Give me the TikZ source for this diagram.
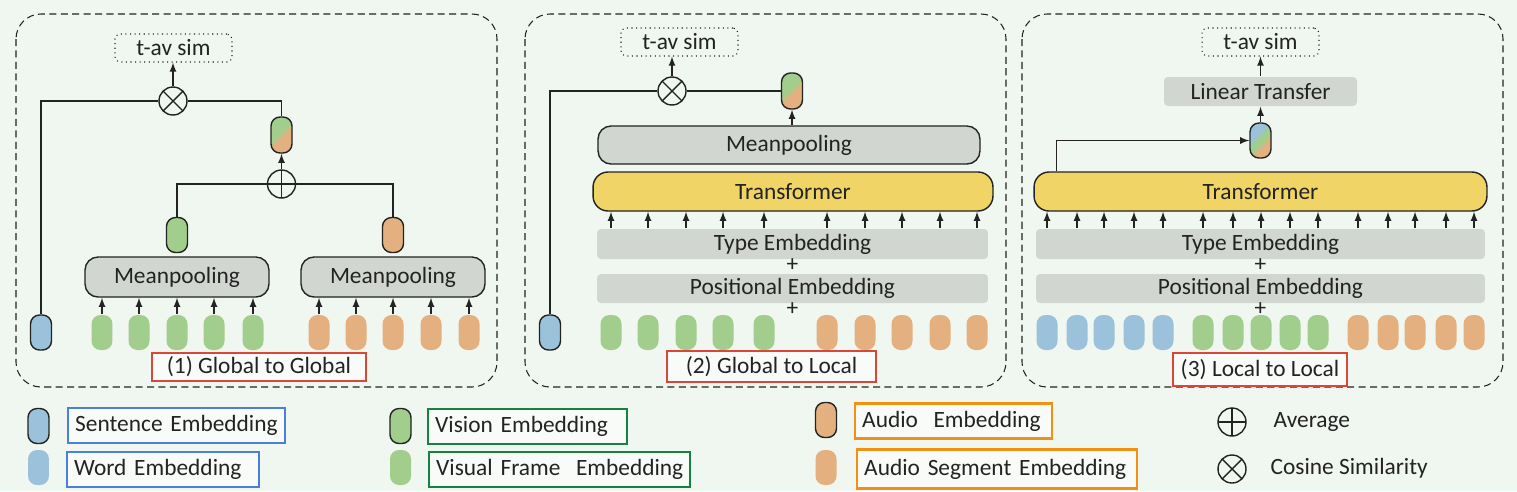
\documentclass[tikz,border=0pt]{standalone}
\usepackage{fontspec}
\setmainfont{Carlito}
\usepackage{xcolor}
\usepackage{tikz}
\usetikzlibrary{positioning}
\definecolor{bgcol}{RGB}{240,246,240}
\definecolor{tokblue}{RGB}{155,194,218}
\definecolor{tokgreen}{RGB}{161,206,140}
\definecolor{tokorange}{RGB}{229,176,128}
\definecolor{boxgray}{RGB}{209,214,208}
\definecolor{trfyellow}{RGB}{240,212,102}
\definecolor{labred}{RGB}{218,70,56}
\definecolor{legblue}{RGB}{72,128,220}
\definecolor{leggreen}{RGB}{22,130,66}
\definecolor{legorange}{RGB}{242,144,18}
\definecolor{inkcol}{RGB}{35,35,35}
\pgfdeclarehorizontalshading{gotrans}{100bp}{color(0bp)=(tokgreen); color(46bp)=(tokgreen); color(54bp)=(tokorange); color(100bp)=(tokorange)}
\pgfdeclarehorizontalshading{bgotrans}{100bp}{color(0bp)=(tokblue); color(38bp)=(tokblue); color(46bp)=(tokgreen); color(54bp)=(tokgreen); color(62bp)=(tokorange); color(100bp)=(tokorange)}

\begin{document}
\begin{tikzpicture}[
	x=0.02cm, y=-0.02cm,
	line width=0.8pt, >=latex, color=inkcol,
	font=\fontsize{13.3}{15}\selectfont
]
\tikzset{
    tok/.style = {rectangle, rounded corners=0.18cm, inner sep=0pt, minimum width=0.42cm, minimum height=0.7cm},
    tokb/.style = {tok, draw=inkcol},
    fuseav/.style = {tokb, minimum height=0.72cm, shading=gotrans, shading angle=-45},
    fuseavt/.style = {tokb, shading=bgotrans, shading angle=-45},
    panel/.style = {draw=inkcol, dash pattern=on 4pt off 2.5pt, line width=0.6pt, rounded corners=0.5cm},
    simbox/.style = {rectangle, draw=inkcol, dotted, line width=0.6pt, rounded corners=0.1cm, minimum width=2.34cm, minimum height=0.56cm, inner sep=0pt},
    mpool/.style = {rectangle, draw=inkcol, fill=boxgray, rounded corners=0.26cm, inner sep=0pt},
    trf/.style = {rectangle, draw=inkcol, fill=trfyellow, rounded corners=0.3cm, inner sep=0pt},
    embbox/.style = {rectangle, fill=boxgray, rounded corners=0.08cm, inner sep=0pt},
    caplab/.style = {rectangle, draw=labred, line width=1.4pt, fill=white!55!bgcol, inner sep=0pt},
    legbox/.style = {rectangle, anchor=west, align=left, line width=1.4pt, fill=white!55!bgcol, inner xsep=0.14cm, inner ysep=0pt, minimum height=0.7cm},
    opcirc/.style = {circle, draw=inkcol, minimum size=0.56cm, inner sep=0pt},
    avgop/.style = {opcirc, path picture={\draw[inkcol] (path picture bounding box.north) -- (path picture bounding box.south) (path picture bounding box.west) -- (path picture bounding box.east);}},
    cosop/.style = {opcirc, path picture={\draw[inkcol] (path picture bounding box.north west) -- (path picture bounding box.south east) (path picture bounding box.north east) -- (path picture bounding box.south west);}}
}
\fill[bgcol] (0,0) rectangle (1517,491);
\useasboundingbox (0,0) rectangle (1517,491);

% (1) global to global
\draw[panel] (16,14) rectangle (497,387);
\node[simbox] (sim1) at (173.5,48) {t-av sim};
\node[cosop] (cos1) at (173,101) {};
\node[fuseav] (fuse1) at (281.5,135) {};
\node[avgop] (avg1) at (281.5,184) {};
\node[tokb, fill=tokgreen] (vis1) at (177,235) {};
\node[tokb, fill=tokorange] (aud1) at (393,235) {};
\node[mpool, minimum width=3.68cm, minimum height=0.8cm] (mp1a) at (177,277) {Meanpooling};
\node[mpool, minimum width=3.68cm, minimum height=0.8cm] (mp1b) at (393,277) {Meanpooling};
\node[tokb, fill=tokblue] (sent1) at (41,332.5) {};
\foreach \x [count=\i] in {102,139,177,214,253}
    \node[tok, fill=tokgreen] (g1-\i) at (\x,332.5) {};
\foreach \x [count=\i] in {319,356,393,431,469}
    \node[tok, fill=tokorange] (o1-\i) at (\x,332.5) {};
\foreach \i in {1,...,5} {
    \draw[->] (g1-\i.north) -- (g1-\i.north |- mp1a.south);
    \draw[->] (o1-\i.north) -- (o1-\i.north |- mp1b.south);
}
\draw (avg1.west) -| (vis1.north);
\draw (avg1.east) -| (aud1.north);
\draw[->] (avg1.north) -- (fuse1.south);
\draw (cos1.west) -| (sent1.north);
\draw (cos1.east) -| (fuse1.north);
\draw[->] (cos1.north) -- (cos1.north |- sim1.south);
\node[caplab, minimum width=4.28cm, minimum height=0.56cm] (lab1) at (259,367) {(1) Global to Global};

% (2) global to local
\draw[panel] (525,14) rectangle (1006,387);
\node[simbox] (sim2) at (679.5,42) {t-av sim};
\node[cosop] (cos2) at (672,91) {};
\node[fuseav] (fuse2) at (792,91) {};
\node[mpool, minimum width=7.64cm, minimum height=0.76cm] (mp2) at (789,145) {Meanpooling};
\node[trf, minimum width=8cm, minimum height=0.78cm] (tr2) at (793,191.5) {Transformer};
\node[embbox, minimum width=7.82cm, minimum height=0.6cm] (te2) at (792.5,244) {Type Embedding};
\node (pl2a) at (792.5,265) {+};
\node[embbox, minimum width=7.82cm, minimum height=0.58cm] (pe2) at (792.5,288.5) {Positional Embedding};
\node (pl2b) at (792.5,309) {+};
\node[tokb, fill=tokblue] (sent2) at (550,332.5) {};
\foreach \x [count=\i] in {611,648,686,723,764}
    \node[tok, fill=tokgreen] (g2-\i) at (\x,332.5) {};
\foreach \x [count=\i] in {827,865,902,940,977}
    \node[tok, fill=tokorange] (o2-\i) at (\x,332.5) {};
\foreach \i in {1,...,5} {
    \draw[->] (g2-\i |- te2.north) -- (g2-\i |- tr2.south);
    \draw[->] (o2-\i |- te2.north) -- (o2-\i |- tr2.south);
}
\draw (cos2.west) -| (sent2.north);
\draw (cos2.east) -- (fuse2.west);
\draw[->] (fuse2.south |- mp2.north) -- (fuse2.south);
\draw[->] (cos2.north) -- (cos2.north |- sim2.south);
\node[caplab, minimum width=4.18cm, minimum height=0.62cm] (lab2) at (771.5,366.5) {(2) Global to Local};

% (3) local to local
\draw[panel] (1022,14) rectangle (1503,387);
\node[simbox] (sim3) at (1260.5,42) {t-av sim};
\node[embbox, minimum width=3.86cm, minimum height=0.58cm] (lin3) at (1260.5,91.5) {Linear Transfer};
\node[fuseavt] (fuse3) at (1260.5,140.5) {};
\node[trf, minimum width=9.06cm, minimum height=0.78cm] (tr3) at (1260.5,191.5) {Transformer};
\node[embbox, minimum width=8.98cm, minimum height=0.6cm] (te3) at (1260.5,244) {Type Embedding};
\node (pl3a) at (1260.5,265) {+};
\node[embbox, minimum width=8.98cm, minimum height=0.58cm] (pe3) at (1260.5,288.5) {Positional Embedding};
\node (pl3b) at (1260.5,309) {+};
\foreach \x [count=\i] in {1047,1077,1104,1134,1163}
    \node[tok, fill=tokblue] (b3-\i) at (\x,332.5) {};
\foreach \x [count=\i] in {1203,1233,1261,1290,1318}
    \node[tok, fill=tokgreen] (g3-\i) at (\x,332.5) {};
\foreach \x [count=\i] in {1358,1388,1415,1446,1474}
    \node[tok, fill=tokorange] (o3-\i) at (\x,332.5) {};
\foreach \i in {1,...,5} {
    \draw[->] (b3-\i |- te3.north) -- (b3-\i |- tr3.south);
    \draw[->] (g3-\i |- te3.north) -- (g3-\i |- tr3.south);
    \draw[->] (o3-\i |- te3.north) -- (o3-\i |- tr3.south);
}
\draw[->] ([xshift=0.46cm]tr3.north west) |- (fuse3.west);
\draw[->] (fuse3.north) -- (lin3.south);
\draw[->] (lin3.north) -- (sim3.south);
\node[caplab, minimum width=3.48cm, minimum height=0.66cm] (lab3) at (1260,369.5) {(3) Local to Local};

% legend
\node[tokb, fill=tokblue] (ksent) at (38.5,426) {};
\node[legbox, draw=legblue, text width=4.06cm] (tsent) at (67,425.5) {\mbox{Sentence Embedding}};
\node[tok, fill=tokblue] (kword) at (38.5,467.5) {};
\node[legbox, draw=legblue, text width=3.56cm] (tword) at (66,469.5) {\mbox{Word Embedding}};
\node[tokb, fill=tokgreen] (kvis) at (400.5,426) {};
\node[legbox, draw=leggreen, text width=3.7cm] (tvis) at (427,426.5) {\mbox{Vision Embedding}};
\node[tok, fill=tokgreen] (kframe) at (400.5,467.5) {};
\node[legbox, draw=leggreen, text width=4.94cm] (tframe) at (428,469.5) {\mbox{Visual Frame\ \ Embedding}};
\node[tokb, fill=tokorange] (kaud) at (826,420) {};
\node[legbox, draw=legorange, text width=3.66cm] (taud) at (854,421) {\mbox{Audio\ \ Embedding}};
\node[tok, fill=tokorange] (kseg) at (826,467.5) {};
\node[legbox, draw=legorange, text width=5.32cm, minimum height=0.78cm] (tseg) at (856,469) {\mbox{Audio Segment Embedding}};
\node[avgop] (kavg) at (1232,422) {};
\node[anchor=west, inner sep=0pt] (tavg) at (1273,422) {Average};
\node[cosop] (kcos) at (1232,469) {};
\node[anchor=west, inner sep=0pt] (tcos) at (1270,468) {Cosine Similarity};
\end{tikzpicture}
\end{document}
